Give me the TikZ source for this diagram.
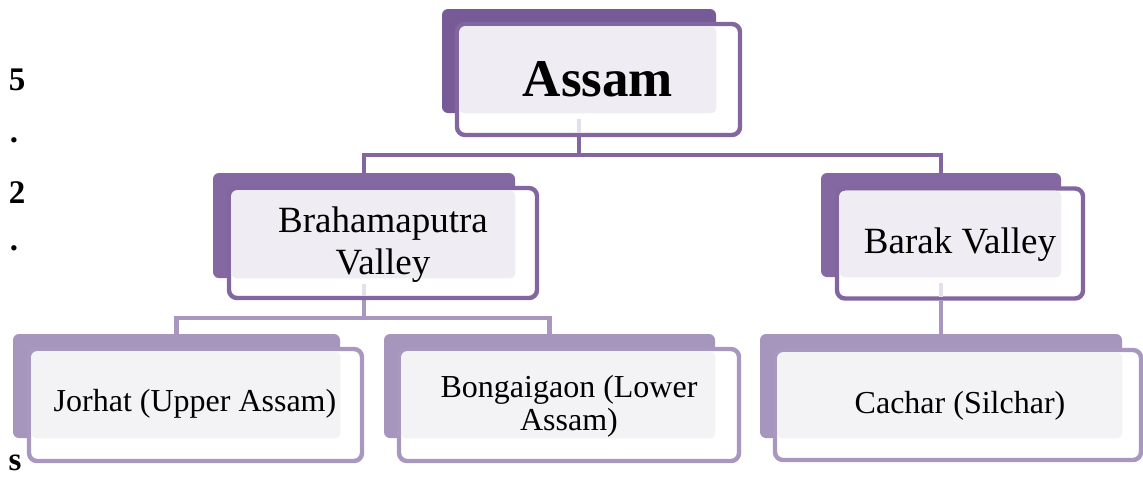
\documentclass[tikz,border=0pt]{standalone}
\usepackage{fontspec}
\setmainfont{Liberation Serif}
\usetikzlibrary{backgrounds}
\definecolor{backA}{HTML}{775B97}
\definecolor{backB}{HTML}{8468A1}
\definecolor{backC}{HTML}{A696BD}
\definecolor{lineA}{HTML}{8366A0}
\definecolor{lineC}{HTML}{A898C0}
\definecolor{lightA}{HTML}{EFEDF3}
\definecolor{lightC}{HTML}{F3F3F6}
\definecolor{stubc}{HTML}{E4E0EB}
\tikzset{
  backbox/.style={rounded corners=3pt, inner sep=0pt, fill=#1},
  frontbox/.style={rounded corners=4pt, inner sep=0pt, fill=white, draw=#1, line width=2.2pt},
  lightfill/.style={rounded corners=3pt, fill=#1},
  conn/.style={draw=#1, line width=2.4pt},
  stub/.style={draw=stubc, line width=2.4pt},
  txtA/.style={font=\bfseries\fontsize{26.5}{30}\selectfont, inner sep=0pt},
  txtB/.style={font=\fontsize{18.5}{21}\selectfont, align=center, inner sep=0pt},
  txtC/.style={font=\fontsize{16}{16.5}\selectfont, align=center, inner sep=0pt},
  margintxt/.style={font=\bfseries\fontsize{16.5}{16.5}\selectfont, inner sep=0pt},
}
\begin{document}
\begin{tikzpicture}[x=0.5pt, y=-0.5pt]
\useasboundingbox (0,0) rectangle (1143,478);
% back boxes
\node[backbox=backA, minimum width=137pt, minimum height=52pt] (assamB) at (579,61) {};
\node[backbox=backB, minimum width=151pt, minimum height=52.5pt] (brahmaB) at (364,225.5) {};
\node[backbox=backB, minimum width=120pt, minimum height=52pt] (barakB) at (941,225) {};
\node[backbox=backC, minimum width=163.5pt, minimum height=52pt] (jorhatB) at (176.5,386) {};
\node[backbox=backC, minimum width=165.5pt, minimum height=52pt] (bongB) at (549.5,386) {};
\node[backbox=backC, minimum width=181pt, minimum height=52pt] (cacharB) at (941,386) {};
% front boxes
\node[frontbox=lineA, minimum width=141.5pt, minimum height=55.5pt] (assam) at (598.5,79.5) {};
\node[frontbox=lineA, minimum width=154pt, minimum height=55pt] (brahma) at (383,243) {};
\node[frontbox=lineA, minimum width=123pt, minimum height=55pt] (barak) at (960,243.5) {};
\node[frontbox=lineC, minimum width=166.5pt, minimum height=56pt] (jorhat) at (195.5,405) {};
\node[frontbox=lineC, minimum width=170pt, minimum height=56pt] (bong) at (569,405) {};
\node[frontbox=lineC, minimum width=183pt, minimum height=55pt] (cachar) at (958,405) {};
% light fills
\fill[lightfill=lightA] ([shift={(2.2pt,-2.2pt)}]assam.north west) rectangle (assamB.south east);
\fill[lightfill=lightA] ([shift={(2.2pt,-2.2pt)}]brahma.north west) rectangle (brahmaB.south east);
\fill[lightfill=lightA] ([shift={(2.2pt,-2.2pt)}]barak.north west) rectangle (barakB.south east);
\fill[lightfill=lightC] ([shift={(2.2pt,-2.2pt)}]jorhat.north west) rectangle (jorhatB.south east);
\fill[lightfill=lightC] ([shift={(2.2pt,-2.2pt)}]bong.north west) rectangle (bongB.south east);
\fill[lightfill=lightC] ([shift={(2.2pt,-2.2pt)}]cachar.north west) rectangle (cacharB.south east);
% faint stubs inside front boxes
\draw[stub] ([yshift=-3pt]assamB.south) -- ([yshift=2pt]assamB.south |- assam.south);
\draw[stub] ([yshift=-3pt]brahmaB.south) -- ([yshift=2pt]brahmaB.south |- brahma.south);
\draw[stub] ([yshift=-3pt]barakB.south) -- ([yshift=2pt]barakB.south |- barak.south);
% connectors
\coordinate (bus1) at (579,155);
\coordinate (bus2) at (364,318);
\begin{scope}[on background layer]
\draw[conn=lineA] (assamB.south |- assam.south) -- (bus1);
\draw[conn=lineA] (brahmaB.north) |- (bus1) -| (barakB.north);
\draw[conn=lineC] (brahmaB.south |- brahma.south) -- (bus2);
\draw[conn=lineC] (jorhatB.north) |- (bus2) -| (bongB.north);
\draw[conn=lineC] (barakB.south |- barak.south) -- (cacharB.north);
\end{scope}
% texts
\node[txtA] (assamT) at (598,79) {Assam};
\node[txtB] (brahmaT) at (383,245) {Brahamaputra\\Valley};
\node[txtB] (barakT) at (960,245) {Barak Valley};
\node[txtC] (jorhatT) at (195,404) {Jorhat (Upper Assam)};
\node[txtC] (bongT) at (569,406) {Bongaigaon (Lower\\Assam)};
\node[txtC] (cacharT) at (960,406) {Cachar (Silchar)};
% margin text
\node[margintxt] (m1) at (17,80) {5};
\node[margintxt] (m2) at (14,140) {.};
\node[margintxt] (m3) at (17,193) {2};
\node[margintxt] (m4) at (14,248) {.};
\node[margintxt] (m5) at (15,463) {s};
\end{tikzpicture}
\end{document}
